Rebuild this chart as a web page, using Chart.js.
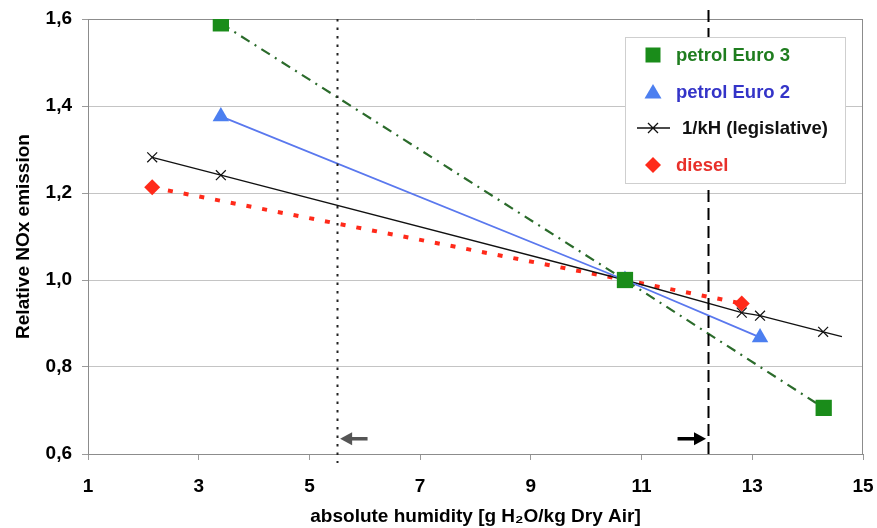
<!DOCTYPE html>
<html><head><meta charset="utf-8">
<script src="https://cdn.jsdelivr.net/npm/chart.js@4/dist/chart.umd.min.js"></script>
<style>html,body{margin:0;padding:0;background:#fff}#wrap{width:877px;height:528px}</style>
</head><body><div id="wrap"><canvas id="c" width="877" height="528"></canvas></div>
<script>
const seriesNames = ['petrol Euro 3', 'petrol Euro 2', '1/kH (legislative)', 'diesel'];
const euro3X = [3.4, 10.7, 14.29];
const euro3Y = [1.59, 1.0, 0.706];
const euro2X = [3.4, 10.7, 13.14];
const euro2Y = [1.376, 1.0, 0.868];
const khX = [2.16, 3.4, 10.7, 12.81, 13.14, 14.28, 14.62];
const khY = [1.282, 1.241, 1.0, 0.925, 0.918, 0.881, 0.870];
const khMarkerShown = [1, 1, 1, 1, 1, 1, 0];
const dieselX = [2.16, 10.7, 12.81];
const dieselY = [1.213, 1.0, 0.946];
const xTicks = [1, 3, 5, 7, 9, 11, 13, 15];
const yTicks = [0.6, 0.8, 1.0, 1.2, 1.4, 1.6];
const limitLines = [5.5, 12.2];
const arrowTails = [6.05, 11.65];
const arrowTips = [5.5, 12.2];
const arrowLevel = 0.635;

const FONT = "'Liberation Sans', Arial, sans-serif";
const pts = (xs, ys) => xs.map((x, i) => ({x: x, y: ys[i]}));

const colors = {
  e3: '#1a8c1a', e3line: '#2b6b2b', e3text: '#1f7d1f',
  e2: '#4c7ff0', e2line: '#5a78ee', e2text: '#3434c8',
  kh: '#111111',
  ds: '#ff2a1a', dstext: '#e8302a'
};

const datasets = [
  {label: seriesNames[0], data: pts(euro3X, euro3Y), showLine: true,
   borderColor: colors.e3line, borderWidth: 2.2, borderDash: [10, 6, 2, 6],
   pointStyle: 'rect', pointRadius: 11.5, pointBackgroundColor: colors.e3, pointBorderColor: colors.e3, pointBorderWidth: 0},
  {label: seriesNames[1], data: pts(euro2X, euro2Y), showLine: true,
   borderColor: colors.e2line, borderWidth: 1.8,
   pointStyle: 'triangle', pointRadius: 9.5, pointBackgroundColor: colors.e2, pointBorderColor: colors.e2, pointBorderWidth: 0},
  {label: seriesNames[2], data: pts(khX, khY), showLine: true,
   borderColor: colors.kh, borderWidth: 1.3,
   pointStyle: 'crossRot', pointRadius: khMarkerShown.map(v => v ? 7 : 0), pointBorderColor: colors.kh, pointBorderWidth: 1.2},
  {label: seriesNames[3], data: pts(dieselX, dieselY), showLine: true,
   borderColor: colors.ds, borderWidth: 4, borderDash: [5, 11],
   pointStyle: 'rectRot', pointRadius: 8, pointBackgroundColor: colors.ds, pointBorderColor: colors.ds, pointBorderWidth: 0}
];

const legendItems = [
  {text: seriesNames[0], color: colors.e3text, mark: 'square'},
  {text: seriesNames[1], color: colors.e2text, mark: 'triangle'},
  {text: seriesNames[2], color: '#111', mark: 'cross'},
  {text: seriesNames[3], color: colors.dstext, mark: 'diamond'}
];

const decorPlugin = {
  id: 'decor',
  beforeDatasetsDraw(chart) {
    const a = chart.chartArea, ctx = chart.ctx;
    ctx.save();
    ctx.strokeStyle = '#8c8c8c'; ctx.lineWidth = 1;
    ctx.beginPath();
    ctx.moveTo(a.left, a.top + 0.5); ctx.lineTo(a.right, a.top + 0.5);
    ctx.moveTo(a.right - 0.5, a.top); ctx.lineTo(a.right - 0.5, a.bottom);
    ctx.stroke();
    ctx.restore();
  },
  afterDatasetsDraw(chart) {
    const ctx = chart.ctx, xs = chart.scales.x, ys = chart.scales.y, a = chart.chartArea;
    ctx.save();
    const x1 = Math.round(xs.getPixelForValue(limitLines[0])) + 0.5;
    ctx.strokeStyle = '#222'; ctx.lineWidth = 2; ctx.setLineDash([2.5, 6]);
    ctx.beginPath(); ctx.moveTo(x1, a.top); ctx.lineTo(x1, a.bottom + 9); ctx.stroke();
    const x2 = Math.round(xs.getPixelForValue(limitLines[1])) + 0.5;
    ctx.strokeStyle = '#000'; ctx.lineWidth = 2; ctx.setLineDash([12, 6]);
    ctx.beginPath(); ctx.moveTo(x2, a.top - 9); ctx.lineTo(x2, a.bottom); ctx.stroke();
    ctx.setLineDash([]);
    const ay = ys.getPixelForValue(arrowLevel);
    const arrowCols = ['#555', '#000'];
    for (let i = 0; i < arrowTips.length; i++) {
      const tx = xs.getPixelForValue(arrowTips[i]) + (arrowTips[i] < arrowTails[i] ? 3 : -2);
      const sx = xs.getPixelForValue(arrowTails[i]);
      const dir = Math.sign(sx - tx);
      ctx.strokeStyle = arrowCols[i]; ctx.fillStyle = arrowCols[i];
      ctx.lineWidth = 3.5;
      ctx.beginPath(); ctx.moveTo(sx, ay); ctx.lineTo(tx + dir * 9, ay); ctx.stroke();
      ctx.beginPath(); ctx.moveTo(tx, ay); ctx.lineTo(tx + dir * 12, ay - 6.5); ctx.lineTo(tx + dir * 12, ay + 6.5); ctx.closePath(); ctx.fill();
    }
    const bx = 625, by = 37, bw = 220, bh = 146;
    ctx.fillStyle = '#fff'; ctx.fillRect(bx, by, bw, bh);
    ctx.strokeStyle = '#cfcfcf'; ctx.lineWidth = 1; ctx.strokeRect(bx + 0.5, by + 0.5, bw, bh);
    const rowY = [55, 92, 128, 165];
    const mx = 653;
    ctx.font = 'bold 18.5px ' + FONT; ctx.textBaseline = 'middle';
    legendItems.forEach((it, i) => {
      const y = rowY[i];
      if (it.mark === 'square') {
        ctx.fillStyle = colors.e3; ctx.fillRect(mx - 7.5, y - 7.5, 15, 15);
      } else if (it.mark === 'triangle') {
        ctx.fillStyle = colors.e2; ctx.beginPath(); ctx.moveTo(mx, y - 8); ctx.lineTo(mx + 8.5, y + 6.5); ctx.lineTo(mx - 8.5, y + 6.5); ctx.closePath(); ctx.fill();
      } else if (it.mark === 'cross') {
        ctx.strokeStyle = '#111'; ctx.lineWidth = 1.3;
        ctx.beginPath(); ctx.moveTo(637, y); ctx.lineTo(670, y);
        ctx.moveTo(mx - 5, y - 5); ctx.lineTo(mx + 5, y + 5); ctx.moveTo(mx + 5, y - 5); ctx.lineTo(mx - 5, y + 5); ctx.stroke();
      } else {
        ctx.fillStyle = colors.ds; ctx.beginPath(); ctx.moveTo(mx, y - 8); ctx.lineTo(mx + 8, y); ctx.lineTo(mx, y + 8); ctx.lineTo(mx - 8, y); ctx.closePath(); ctx.fill();
      }
      ctx.fillStyle = it.color;
      ctx.fillText(it.text, it.mark === 'cross' ? 682 : 676, y + 1);
    });
    ctx.restore();
  }
};

new Chart(document.getElementById('c'), {
  type: 'scatter',
  data: {datasets: datasets},
  options: {
    responsive: false, animation: false, devicePixelRatio: 1,
    layout: {padding: {top: 19, right: 14, left: 0, bottom: 0}},
    plugins: {legend: {display: false}, tooltip: {enabled: false}},
    scales: {
      x: {
        type: 'linear', min: 1, max: 15,
        afterBuildTicks: s => { s.ticks = xTicks.map(v => ({value: v})); },
        afterFit: s => { s.height = 74; s.paddingLeft = 0; s.paddingRight = 0; },
        grid: {drawOnChartArea: false, drawTicks: true, tickLength: 6, color: '#9a9a9a'},
        border: {display: true, color: '#8c8c8c'},
        ticks: {color: '#000', font: {family: FONT, size: 19, weight: 'bold'}, padding: 15, maxRotation: 0},
        title: {display: true, text: 'absolute humidity [g H₂O/kg Dry Air]', color: '#000',
                font: {family: FONT, size: 19, weight: 'bold'}, padding: {top: 0, bottom: 0}}
      },
      y: {
        type: 'linear', min: 0.6, max: 1.6,
        afterBuildTicks: s => { s.ticks = yTicks.map(v => ({value: v})); },
        afterFit: s => { s.width = 88; s.paddingTop = 0; s.paddingBottom = 0; },
        grid: {drawOnChartArea: true, tickLength: 6,
               color: c => (c.tick && (Math.abs(c.tick.value - 0.6) < 1e-6 || Math.abs(c.tick.value - 1.6) < 1e-6)) ? 'rgba(0,0,0,0)' : '#c4c4c4',
               tickColor: '#9a9a9a'},
        border: {display: true, color: '#8c8c8c'},
        ticks: {color: '#000', font: {family: FONT, size: 19, weight: 'bold'}, padding: 10,
                callback: v => Number(v).toFixed(1).replace('.', ',')},
        title: {display: true, text: 'Relative NOx emission', color: '#000',
                font: {family: FONT, size: 19, weight: 'bold'}, padding: {top: 12, bottom: 0}}
      }
    }
  },
  plugins: [decorPlugin]
});
</script>
</body></html>
